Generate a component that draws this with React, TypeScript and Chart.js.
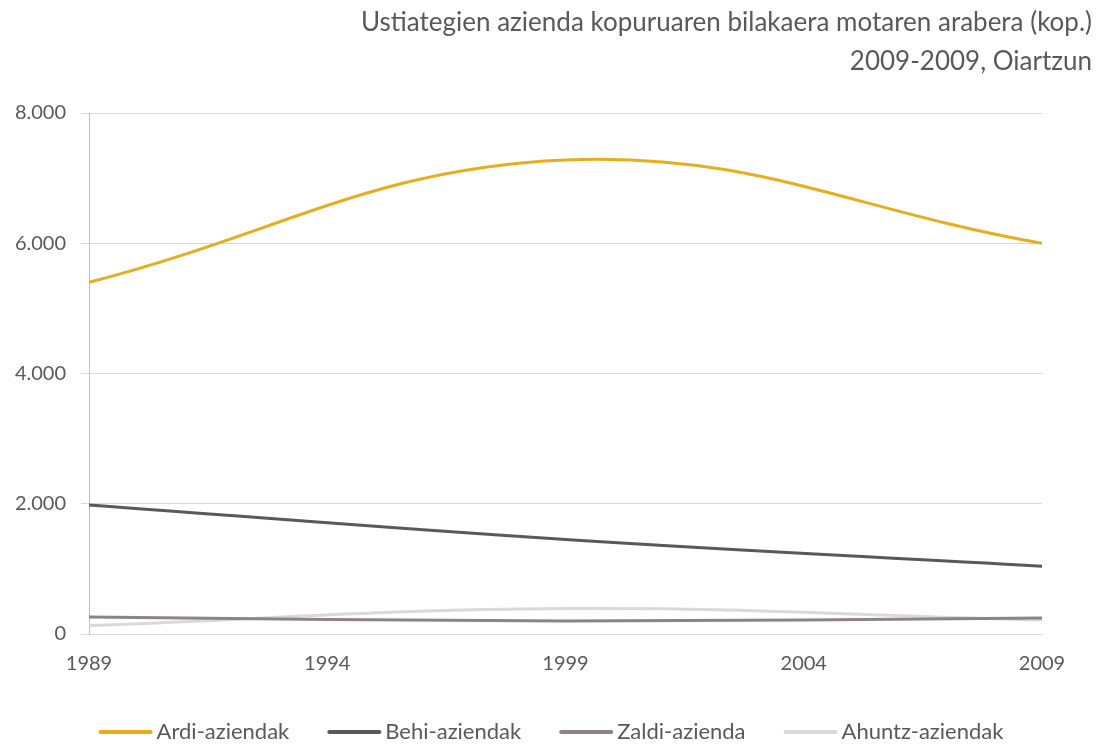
import React, { useEffect, useRef } from "react";
import { Chart, registerables } from "chart.js";

Chart.register(...registerables);

const years = [1989, 1999, 2009];
const ardi = [5400, 7280, 6000];
const behi = [1980, 1450, 1040];
const zaldi = [260, 200, 245];
const ahuntz = [130, 390, 215];
const seriesLabels = ["Ardi-aziendak", "Behi-aziendak", "Zaldi-azienda", "Ahuntz-aziendak"];
const seriesColors = ["#E8AD1C", "#595959", "#8C8385", "#D9D9D9"];
const titleLines = [
  "Ustiategien azienda kopuruaren bilakaera motaren arabera (kop.)",
  "2009-2009, Oiartzun",
];

const FONT = "Lato, 'Open Sans', sans-serif";
const TEXT = "#595959";

function fmt(v: number): string {
  const s = Math.round(v).toString();
  return s.replace(/\B(?=(\d{3})+(?!\d))/g, ".");
}

const titlePlugin = {
  id: "customTitle",
  afterDraw(chart: any) {
    const ctx = chart.ctx;
    ctx.save();
    ctx.font = `26px ${FONT}`;
    ctx.fillStyle = TEXT;
    ctx.textAlign = "right";
    ctx.textBaseline = "middle";
    const ys = [23, 62];
    titleLines.forEach((t, i) => ctx.fillText(t, chart.width - 10, ys[i]));
    ctx.restore();
  },
};

const legendPlugin = {
  id: "customLegend",
  afterDraw(chart: any) {
    const ctx = chart.ctx;
    ctx.save();
    ctx.font = `22px ${FONT}`;
    ctx.textBaseline = "middle";
    ctx.textAlign = "left";
    const lineW = 54;
    const gapText = 4;
    const gapItem = 38;
    const items = chart.data.datasets.map((d: any) => ({
      label: d.label,
      color: d.borderColor,
      w: lineW + gapText + ctx.measureText(d.label).width,
    }));
    const total = items.reduce((a: number, it: any) => a + it.w, 0) + gapItem * (items.length - 1);
    let x = (chart.width - total) / 2;
    const y = 732;
    for (const it of items) {
      ctx.strokeStyle = it.color;
      ctx.lineWidth = 4;
      ctx.lineCap = "round";
      ctx.beginPath();
      ctx.moveTo(x + 2, y);
      ctx.lineTo(x + lineW - 2, y);
      ctx.stroke();
      ctx.fillStyle = TEXT;
      ctx.fillText(it.label, x + lineW + gapText, y);
      x += it.w + gapItem;
    }
    ctx.restore();
  },
};

export default function App() {
  const ref = useRef<HTMLCanvasElement | null>(null);
  useEffect(() => {
    document.body.style.margin = "0";
    const mk = (label: string, data: number[], color: string) => ({
      label,
      data: years.map((y, i) => ({ x: y, y: data[i] })),
      borderColor: color,
      backgroundColor: color,
      borderWidth: 3,
      pointRadius: 0,
      tension: 0.4,
      fill: false,
    });
    const chart = new Chart(ref.current as HTMLCanvasElement, {
      type: "line",
      data: {
        datasets: [
          mk(seriesLabels[0], ardi, seriesColors[0]),
          mk(seriesLabels[1], behi, seriesColors[1]),
          mk(seriesLabels[2], zaldi, seriesColors[2]),
          mk(seriesLabels[3], ahuntz, seriesColors[3]),
        ],
      },
      options: {
        animation: false,
        responsive: false,
        layout: { padding: { left: 0, right: 60, top: 113, bottom: 61 } },
        plugins: {
          legend: { display: false },
          tooltip: { enabled: false },
          title: { display: false },
        },
        scales: {
          x: {
            type: "linear",
            min: 1989,
            max: 2009,
            ticks: {
              stepSize: 5,
              color: TEXT,
              font: { family: FONT, size: 20 },
              padding: 18,
              callback: (v: any) => String(v),
              maxRotation: 0,
            },
            grid: { display: false, drawTicks: false },
            border: { display: false },
            afterFit: (s: any) => { s.height = 50; },
          },
          y: {
            min: 0,
            max: 8000,
            ticks: {
              stepSize: 2000,
              color: TEXT,
              font: { family: FONT, size: 20 },
              padding: 15,
              callback: (v: any) => fmt(Number(v)),
            },
            grid: { color: "#D9D9D9", lineWidth: 1, tickLength: 8, drawTicks: true },
            border: { display: true, color: "#BFBFBF", width: 1 },
            afterFit: (s: any) => { s.width = 89; },
          },
        },
      },
      plugins: [titlePlugin, legendPlugin],
    } as any);
    return () => chart.destroy();
  }, []);
  return (
    <div style={{ width: 1102, height: 745 }}>
      <canvas ref={ref} width={1102} height={745} style={{ display: "block" }} />
    </div>
  );
}
